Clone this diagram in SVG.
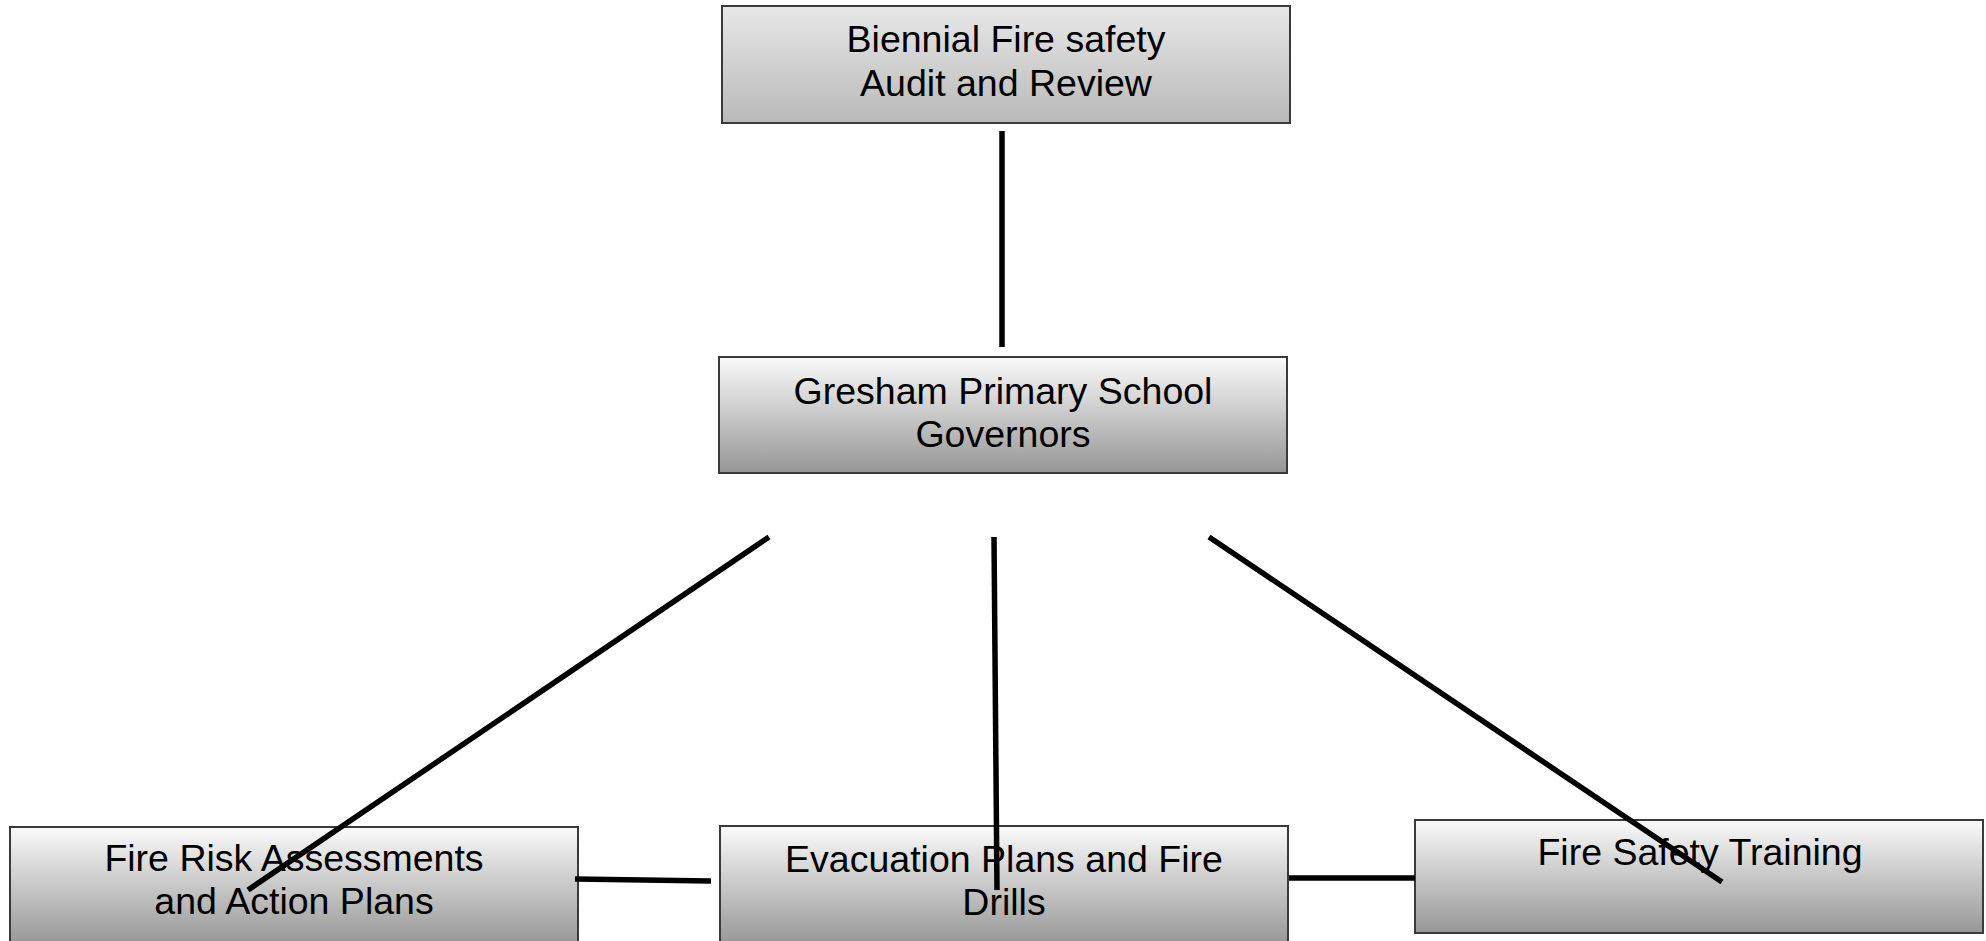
<svg xmlns="http://www.w3.org/2000/svg" width="1986" height="941" viewBox="0 0 1986 941">
<defs>
<linearGradient id="g1" x1="0" y1="0" x2="0" y2="1">
<stop offset="0" stop-color="#fafafa"/>
<stop offset="1" stop-color="#969696"/>
</linearGradient>
<linearGradient id="g0" x1="0" y1="0" x2="0" y2="1">
<stop offset="0" stop-color="#e8e8e8"/>
<stop offset="1" stop-color="#b9b9b9"/>
</linearGradient>
</defs>
<style>
.box{stroke:#3a3a3a;stroke-width:2}
.t{font-family:"Liberation Sans",Arial,sans-serif;font-size:37.5px;fill:#000;text-anchor:middle}
.c{stroke:#000;stroke-width:5.5;fill:none}
</style>
<rect width="1986" height="941" fill="#fff"/>
<g id="n-audit">
<rect class="box" x="722" y="6" width="568" height="117" fill="url(#g0)"/>
<text class="t" x="1006" y="52">Biennial Fire safety</text>
<text class="t" x="1006" y="96">Audit and Review</text>
</g>
<g id="n-governors">
<rect class="box" x="719" y="357" width="568" height="116" fill="url(#g1)"/>
<text class="t" x="1003" y="404">Gresham Primary School</text>
<text class="t" x="1003" y="447">Governors</text>
</g>
<g id="n-risk">
<rect class="box" x="10" y="827" width="568" height="118" fill="url(#g1)"/>
<text class="t" x="294" y="871">Fire Risk Assessments</text>
<text class="t" x="294" y="914">and Action Plans</text>
</g>
<g id="n-evac">
<rect class="box" x="720" y="826" width="568" height="119" fill="url(#g1)"/>
<text class="t" x="1004" y="872">Evacuation Plans and Fire</text>
<text class="t" x="1004" y="915">Drills</text>
</g>
<g id="n-training">
<rect class="box" x="1415" y="820" width="568" height="113" fill="url(#g1)"/>
<text class="t" x="1700" y="865">Fire Safety Training</text>
</g>
<g id="connectors">
<line class="c" x1="1002" y1="131" x2="1002" y2="347"/>
<line class="c" x1="769" y1="537" x2="248" y2="890"/>
<line class="c" x1="994" y1="537" x2="997" y2="890"/>
<line class="c" x1="1209" y1="537" x2="1722" y2="882"/>
<line class="c" x1="575" y1="879" x2="711" y2="881"/>
<line class="c" x1="1289" y1="878" x2="1415" y2="878"/>
</g>
</svg>
